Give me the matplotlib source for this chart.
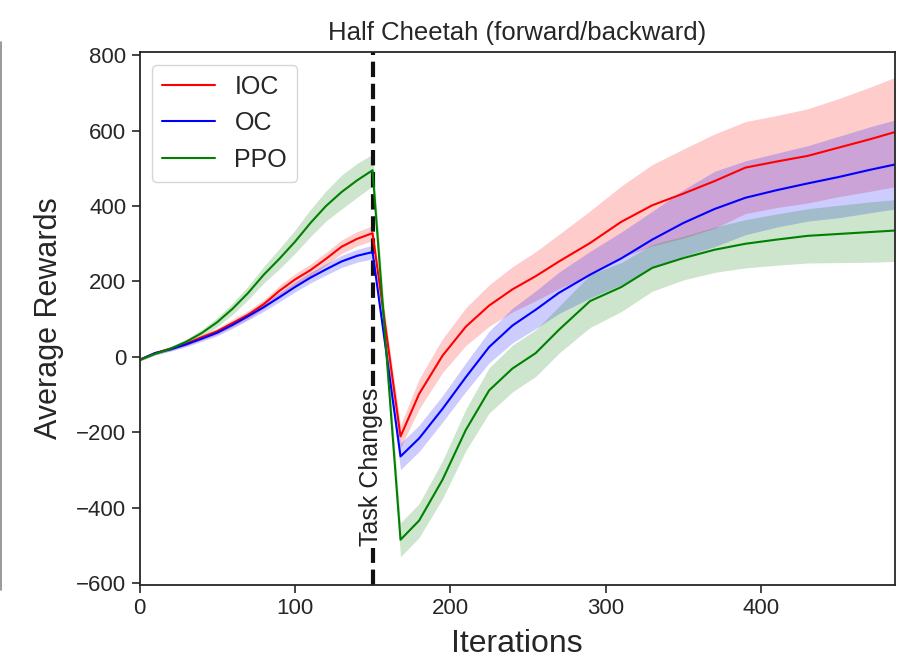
import numpy as np
import matplotlib
matplotlib.use("Agg")
import matplotlib.pyplot as plt
import seaborn as sns
from matplotlib.lines import Line2D

sns.set_style("ticks")
plt.rcParams['font.family'] = ['Liberation Sans', 'DejaVu Sans']

# Iteraciones (fase 1: 0-150, fase 2: despues del cambio de tarea)
iteraciones = [0, 10, 20, 30, 40, 50, 60, 70, 80, 90, 100, 110, 120, 130, 140, 150,
               168, 180, 195, 210, 225, 240, 255, 270, 290, 310, 330, 350, 370, 390,
               410, 430, 450, 470, 486]

ioc_media = [-8, 10, 22, 35, 52, 68, 90, 112, 140, 175, 205, 230, 260, 292, 313, 328,
             -211, -98, 3, 80, 136, 179, 214, 253, 302, 358, 402, 433, 466, 502,
             518, 533, 555, 577, 596]
ioc_std = [3, 4, 5, 6, 7, 8, 10, 11, 12, 14, 15, 16, 17, 18, 19, 20,
           30, 40, 45, 50, 55, 60, 65, 72, 85, 95, 108, 118, 125, 122,
           122, 125, 130, 138, 145]

oc_media = [-8, 10, 20, 33, 48, 64, 85, 108, 132, 158, 185, 210, 232, 253, 268, 278,
            -264, -216, -138, -54, 26, 83, 125, 170, 218, 261, 311, 355, 392, 422,
            442, 460, 477, 496, 510]
oc_std = [3, 4, 5, 6, 7, 8, 9, 10, 11, 12, 13, 14, 15, 16, 17, 18,
          35, 35, 35, 38, 42, 46, 50, 55, 62, 70, 75, 88, 100, 98,
          98, 100, 108, 114, 118]

ppo_media = [-8, 8, 22, 40, 63, 92, 128, 170, 218, 260, 305, 355, 400, 437, 468, 495,
             -485, -434, -326, -194, -89, -31, 10, 72, 148, 185, 236, 262, 284, 300,
             311, 321, 326, 331, 335]
ppo_std = [3, 4, 5, 7, 9, 12, 15, 18, 22, 27, 31, 36, 40, 45, 45, 42,
           45, 45, 50, 55, 60, 62, 62, 62, 70, 65, 62, 58, 60, 64,
           68, 72, 76, 80, 82]

cambio_tarea = 150

x = np.array(iteraciones)
series = [("IOC", ioc_media, ioc_std, "red"),
          ("OC", oc_media, oc_std, "blue"),
          ("PPO", ppo_media, ppo_std, "green")]

fig = plt.figure(figsize=(9, 6.61), dpi=100)
ax = fig.add_axes([0.155, 0.115, 0.839, 0.806])

for nombre, media, std, color in series:
    m = np.array(media)
    s = np.array(std)
    ax.plot(x, m, color=color, lw=1.5, label=nombre)
    ax.fill_between(x, m - s, m + s, color=color, alpha=0.2, lw=0)

ax.axvline(cambio_tarea, color="#111111", ls="--", lw=3, zorder=1)
ax.text(cambio_tarea - 1, -292, "Task Changes", rotation=90, ha="center", va="center",
        fontsize=18, color="#222222", zorder=2,
        bbox=dict(facecolor="white", edgecolor="none", pad=1))

ax.set_xlim(0, 486)
ax.set_ylim(-605, 808)
ax.set_xticks([0, 100, 200, 300, 400])
ax.set_yticks([-600, -400, -200, 0, 200, 400, 600, 800])
ax.tick_params(labelsize=16, length=6, width=1.2, colors="#262626")
for sp in ax.spines.values():
    sp.set_linewidth(1.3)
    sp.set_color("#262626")

ax.set_title("Half Cheetah (forward/backward)", fontsize=18.5, color="#262626", pad=9)
ax.set_xlabel("Iterations", fontsize=23, color="#262626", labelpad=7)
ax.set_ylabel("Average Rewards", fontsize=22, color="#262626", labelpad=9)

ax.legend(loc="upper left", fontsize=18, frameon=True, handlelength=2.1)

# linea gris del borde izquierdo
fig.add_artist(Line2D([0.0015, 0.0015], [1 - 590 / 661, 1 - 42 / 661],
                      color="#888888", lw=1.2))

fig.savefig("out.png", dpi=100)
